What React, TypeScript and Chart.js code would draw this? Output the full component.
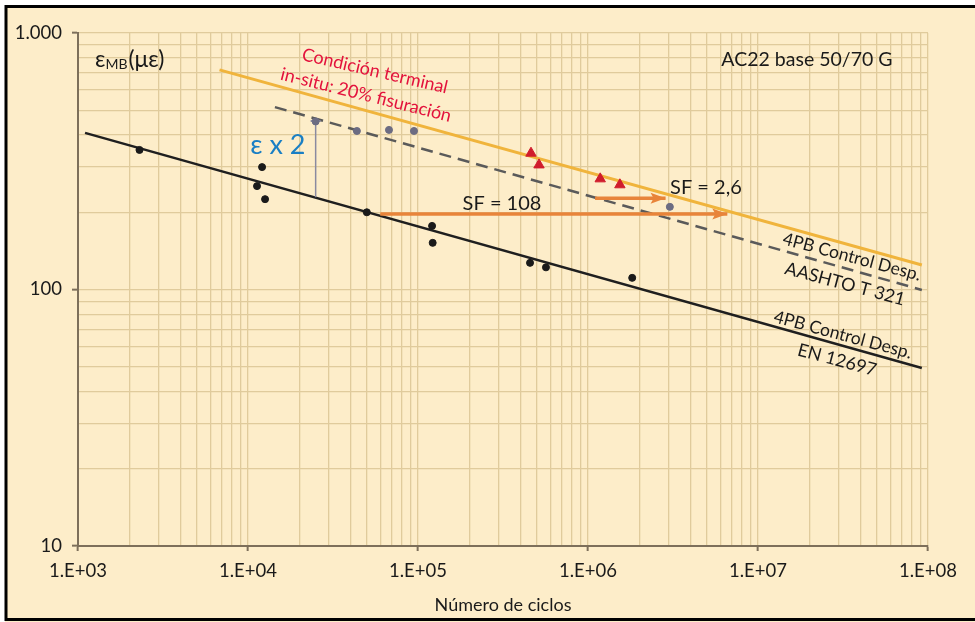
import React, { useEffect, useRef } from 'react';
import { Chart, registerables } from 'chart.js';

Chart.register(...registerables);

// ---- tick labels ----
const xDecades = [1e3, 1e4, 1e5, 1e6, 1e7, 1e8];
const xTickLabels = ['1.E+03', '1.E+04', '1.E+05', '1.E+06', '1.E+07', '1.E+08'];
const yDecades = [10, 100, 1000];
const yTickLabels = ['10', '100', '1.000'];
const minorSteps = [1, 2, 3, 4, 5, 6, 7, 8, 9];

// ---- measured points ----
const enCycles = [2.3e3, 1.21e4, 1.13e4, 1.26e4, 5.0e4, 1.21e5, 1.22e5, 4.56e5, 5.66e5, 1.82e6];
const enStrain = [350, 300, 253, 225, 200, 177, 152, 127, 122, 111];
const aashtoCycles = [2.5e4, 4.37e4, 6.75e4, 9.47e4, 3.03e6];
const aashtoStrain = [452, 415, 419, 415, 210];
const fieldCycles = [4.62e5, 5.15e5, 1.18e6, 1.54e6];
const fieldStrain = [340, 306, 270, 256];

// ---- fatigue laws ----
const enFitCycles = [1.1e3, 9.2e7];
const enFitStrain = [408, 49.4];
const aashtoFitCycles = [1.44e4, 9.2e7];
const aashtoFitStrain = [514, 99.6];
const fieldFitCycles = [6.8e3, 9.2e7];
const fieldFitStrain = [718, 124.6];

// ---- shift factor arrows & strain doubling ----
const sf108Cycles = [6.0e4, 6.6e6];
const sf108Strain = [197, 197];
const sf26Cycles = [1.1e6, 2.86e6];
const sf26Strain = [227, 227];
const doubleCycles = [2.5e4, 2.5e4];
const doubleStrain = [229, 454];

// ---- annotations (data coordinates) ----
const RED = '#e3123c';
const BLUE = '#1a7fc4';
const INK = '#1a1a1a';
const noteTexts = ['Condición terminal', 'in-situ: 20% fisuración', 'ε x 2', 'SF = 108', 'SF = 2,6', 'AC22 base 50/70 G', '4PB Control Desp.', 'AASHTO T 321', '4PB Control Desp.', 'EN 12697'];
const noteX = [5.58e4, 4.94e4, 1.5e4, 3.12e5, 4.94e6, 1.94e7, 3.57e7, 3.25e7, 3.16e7, 2.92e7];
const noteY = [711, 573, 366, 217, 249, 785, 133.9, 105, 66.5, 53.1];
const noteRot = [13, 14, 0, 0, 0, 0, 15, 15, 15, 15];
const noteColor = [RED, RED, BLUE, INK, INK, INK, INK, INK, INK, INK];
const noteSize = [18, 18, 27, 20, 20, 19.5, 17.5, 18, 17.5, 18];

const FONT = 'Lato, "Open Sans", sans-serif';

const pts = (xs: number[], ys: number[]) => xs.map((x, i) => ({ x, y: ys[i] }));
const isDecade = (v: number) => Math.abs(Math.log10(v) - Math.round(Math.log10(v))) < 1e-9;
const allTicks = (decades: number[]) => {
  const out: number[] = [];
  decades.forEach((d, i) => {
    if (i === decades.length - 1) out.push(d);
    else minorSteps.forEach((m) => out.push(m * d));
  });
  return out;
};

const framePlugin = {
  id: 'frame',
  beforeDraw(chart: any) {
    const { ctx, width, height } = chart;
    ctx.save();
    ctx.fillStyle = '#ffffff';
    ctx.fillRect(0, 0, width, height);
    ctx.fillStyle = '#fdedc9';
    ctx.fillRect(5, 5, width, height - 5);
    ctx.restore();
  },
  afterDraw(chart: any) {
    const { ctx, width, height } = chart;
    ctx.save();
    ctx.strokeStyle = '#000';
    ctx.lineWidth = 3;
    ctx.strokeRect(6, 6.5, width + 10, height - 9);
    ctx.restore();
  },
};

const arrowPlugin = {
  id: 'arrows',
  afterDatasetsDraw(chart: any) {
    const { ctx } = chart;
    chart.data.datasets.forEach((ds: any, i: number) => {
      if (!ds.arrowHead) return;
      const meta = chart.getDatasetMeta(i);
      const n = meta.data.length;
      const a = meta.data[n - 2];
      const b = meta.data[n - 1];
      const ang = Math.atan2(b.y - a.y, b.x - a.x);
      const len = 15;
      const half = 5.5;
      ctx.save();
      ctx.translate(b.x, b.y);
      ctx.rotate(ang);
      ctx.fillStyle = ds.borderColor;
      ctx.beginPath();
      ctx.moveTo(0, 0);
      ctx.lineTo(-len, -half);
      ctx.lineTo(-len * 0.8, 0);
      ctx.lineTo(-len, half);
      ctx.closePath();
      ctx.fill();
      ctx.restore();
    });
  },
};

const notesPlugin = {
  id: 'notes',
  afterDraw(chart: any) {
    const { ctx, scales } = chart;
    const xs = scales.x;
    const ys = scales.y;
    ctx.save();
    noteTexts.forEach((t, i) => {
      const px = xs.getPixelForValue(noteX[i]);
      const py = ys.getPixelForValue(noteY[i]);
      ctx.save();
      ctx.translate(px, py);
      ctx.rotate((noteRot[i] * Math.PI) / 180);
      ctx.font = `${noteSize[i]}px ${FONT}`;
      ctx.fillStyle = noteColor[i];
      ctx.textAlign = 'center';
      ctx.textBaseline = 'middle';
      ctx.fillText(t, 0, 0);
      ctx.restore();
    });
    // y axis title: ε_MB(με)
    const tx = xs.getPixelForValue(1.26e3);
    const ty = ys.getPixelForValue(785);
    ctx.fillStyle = INK;
    ctx.textAlign = 'left';
    ctx.textBaseline = 'alphabetic';
    ctx.font = `23px ${FONT}`;
    const base = ty + 7;
    ctx.fillText('ε', tx, base);
    let cx = tx + ctx.measureText('ε').width;
    ctx.font = `14px ${FONT}`;
    ctx.fillText('MB', cx, base + 2);
    cx += ctx.measureText('MB').width + 1;
    ctx.font = `23px ${FONT}`;
    ctx.fillText('(με)', cx, base);
    ctx.restore();
  },
};

export default function App() {
  const ref = useRef<HTMLCanvasElement | null>(null);

  useEffect(() => {
    if (!ref.current) return;
    const gridColor = '#e0cb9c';
    const axisColor = '#7d6f5a';
    const chart = new Chart(ref.current, {
      type: 'scatter',
      data: {
        datasets: [
          {
            label: 'EN 12697 ensayos',
            data: pts(enCycles, enStrain),
            backgroundColor: '#1a1a1a',
            borderColor: '#1a1a1a',
            pointRadius: 3.5,
            order: 1,
          },
          {
            label: 'AASHTO ensayos',
            data: pts(aashtoCycles, aashtoStrain),
            backgroundColor: '#6c6c82',
            borderColor: '#6c6c82',
            pointRadius: 3.5,
            order: 1,
          },
          {
            label: 'In-situ',
            data: pts(fieldCycles, fieldStrain),
            backgroundColor: '#d01c2c',
            borderColor: '#d01c2c',
            pointStyle: 'triangle',
            pointRadius: 6,
            order: 1,
          },
          {
            label: 'EN 12697',
            data: pts(enFitCycles, enFitStrain),
            showLine: true,
            borderColor: '#1f1f1f',
            borderWidth: 2.5,
            pointRadius: 0,
            order: 3,
          },
          {
            label: 'AASHTO T 321',
            data: pts(aashtoFitCycles, aashtoFitStrain),
            showLine: true,
            borderColor: '#5a5a5a',
            borderWidth: 2.5,
            borderDash: [12, 7],
            pointRadius: 0,
            order: 3,
          },
          {
            label: 'Condición terminal',
            data: pts(fieldFitCycles, fieldFitStrain),
            showLine: true,
            borderColor: '#f0b43c',
            borderWidth: 3,
            pointRadius: 0,
            order: 3,
          },
          {
            label: 'SF 108',
            data: pts(sf108Cycles, sf108Strain),
            showLine: true,
            borderColor: '#e8843a',
            borderWidth: 3.5,
            pointRadius: 0,
            arrowHead: true,
            order: 2,
          } as any,
          {
            label: 'SF 2,6',
            data: pts(sf26Cycles, sf26Strain),
            showLine: true,
            borderColor: '#e8843a',
            borderWidth: 3.5,
            pointRadius: 0,
            arrowHead: true,
            order: 2,
          } as any,
          {
            label: 'ε x 2',
            data: pts(doubleCycles, doubleStrain),
            showLine: true,
            borderColor: '#8a8aa0',
            backgroundColor: '#8a8aa0',
            borderWidth: 1.5,
            pointStyle: 'line',
            pointRadius: [0, 5],
            pointBorderWidth: 2,
            order: 2,
          },
        ],
      },
      options: {
        animation: false,
        responsive: false,
        maintainAspectRatio: false,
        layout: { padding: { left: 0, top: 33, right: 47, bottom: 0 } },
        plugins: { legend: { display: false }, tooltip: { enabled: false } },
        scales: {
          x: {
            type: 'logarithmic',
            min: 1e3,
            max: 1e8,
            afterBuildTicks: (scale: any) => {
              scale.ticks = allTicks(xDecades).map((v) => ({ value: v, major: isDecade(v) }));
            },
            afterFit: (scale: any) => {
              scale.height = 76;
            },
            border: { display: true, color: axisColor, width: 2 },
            grid: {
              color: gridColor,
              lineWidth: 1.3,
              tickLength: 5,
              tickColor: (ctx: any) => (ctx.tick && isDecade(ctx.tick.value) ? axisColor : 'rgba(0,0,0,0)'),
              tickWidth: 2,
            },
            ticks: {
              autoSkip: false,
              maxRotation: 0,
              padding: 9,
              color: INK,
              font: { family: FONT, size: 18.5 },
              callback: (v: any) => {
                const idx = xDecades.findIndex((d) => Math.abs(d - Number(v)) < 1e-6 * d);
                return idx >= 0 ? xTickLabels[idx] : '';
              },
            },
            title: {
              display: true,
              text: 'Número de ciclos',
              color: INK,
              font: { family: FONT, size: 18 },
              padding: { top: 0, bottom: 6 },
            },
          },
          y: {
            type: 'logarithmic',
            min: 10,
            max: 1000,
            afterBuildTicks: (scale: any) => {
              scale.ticks = allTicks(yDecades).map((v) => ({ value: v, major: isDecade(v) }));
            },
            afterFit: (scale: any) => {
              scale.width = 78;
            },
            border: { display: true, color: axisColor, width: 2 },
            grid: {
              color: gridColor,
              lineWidth: 1.3,
              tickLength: 6,
              tickColor: (ctx: any) => (ctx.tick && isDecade(ctx.tick.value) ? axisColor : 'rgba(0,0,0,0)'),
              tickWidth: 2,
            },
            ticks: {
              autoSkip: false,
              padding: 10,
              color: INK,
              font: { family: FONT, size: 18.5 },
              callback: (v: any) => {
                const idx = yDecades.findIndex((d) => Math.abs(d - Number(v)) < 1e-6 * d);
                return idx >= 0 ? yTickLabels[idx] : '';
              },
            },
          },
        },
      },
      plugins: [framePlugin, arrowPlugin, notesPlugin],
    } as any);
    return () => chart.destroy();
  }, []);

  return (
    <div style={{ position: 'absolute', left: 0, top: 0, width: 975, height: 622 }}>
      <canvas ref={ref} width={975} height={622} style={{ display: 'block' }} />
    </div>
  );
}
